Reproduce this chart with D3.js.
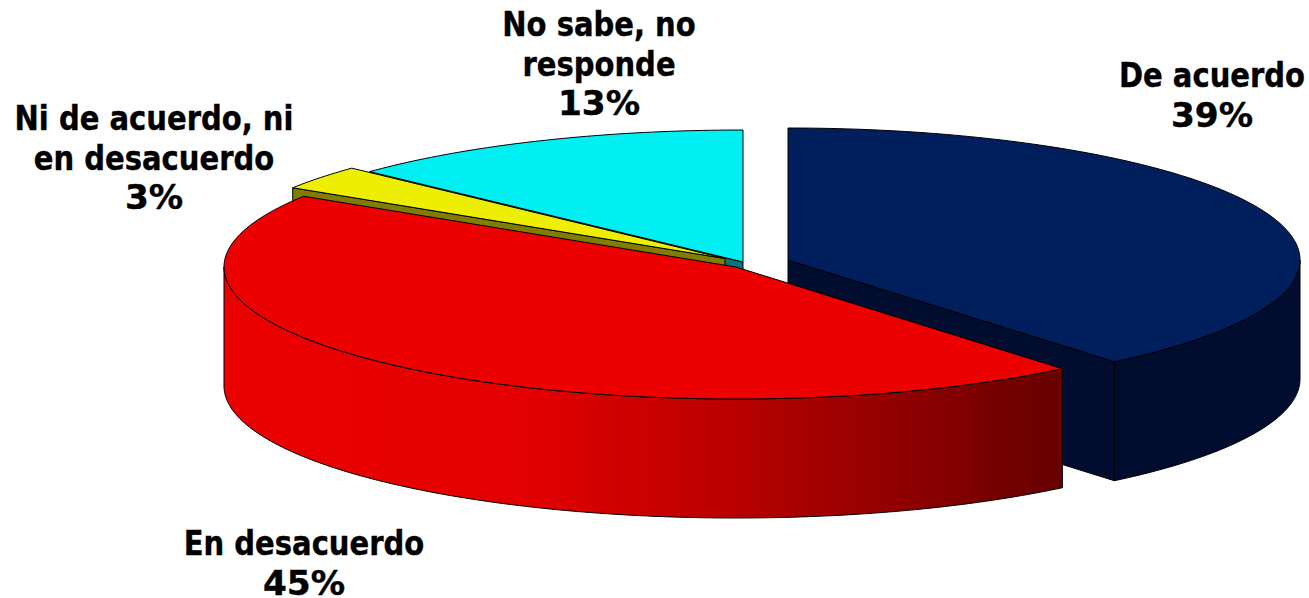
<!DOCTYPE html>
<html>
<head>
<meta charset="utf-8">
<script src="https://d3js.org/d3.v7.min.js"></script>
<style>
    html, body { margin: 0; padding: 0; background: #fff; overflow: hidden; }
    text { font-family: "DejaVu Sans", sans-serif; font-weight: bold; fill: #000; stroke: #000; stroke-width: 0.4px; }
</style>
</head>
<body>
<svg id="chart" width="1309" height="598"></svg>
<script>
const categories = ["De acuerdo", "En desacuerdo", "Ni de acuerdo, ni en desacuerdo", "No sabe, no responde"];
const values = [39, 45, 3, 13];
const labelLines = [["De acuerdo"], ["En desacuerdo"], ["Ni de acuerdo, ni", "en desacuerdo"], ["No sabe, no", "responde"]];

const topColors = ["#001f5c", "#ec0000", "#eeee00", "#00eff2"];
const wallColors = ["#000d2e", "url(#redWall)", "#807d00", "#0b7478"];
const centers = [[788, 260], [736, 267], [725, 258.5], [743, 262]];
const labelPos = [[1212, 87], [304, 555], [154, 130], [599, 36]];

const rx = 512, ry = 132, depth = 119;
const fontSize = 33, lineGap = 39.5, textSqueeze = 0.88, percentSqueeze = 1.04;

const svg = d3.select("#chart");

const grad = svg.append("defs").append("linearGradient")
    .attr("id", "redWall")
    .attr("gradientUnits", "userSpaceOnUse")
    .attr("x1", 224).attr("x2", 1062).attr("y1", 0).attr("y2", 0);
[[0, "#ec0000"], [0.35, "#e40000"], [0.6, "#bb0000"], [0.8, "#920000"], [1, "#660000"]].forEach(s => {
    grad.append("stop").attr("offset", s[0]).attr("stop-color", s[1]);
});

const pie = d3.pie().sort(null).value(d => d).startAngle(0).endAngle(2 * Math.PI);
const slices = pie(values);
const line = d3.line();

function point(c, a, z) {
    return [c[0] + rx * Math.sin(a), c[1] - ry * Math.cos(a) + (z || 0)];
}

function arcPoints(c, a0, a1, z) {
    const n = Math.max(2, Math.ceil((a1 - a0) * 60));
    return d3.range(n + 1).map(i => point(c, a0 + (a1 - a0) * i / n, z));
}

function drawShape(pts, fill) {
    svg.append("path")
        .attr("d", line(pts) + "Z")
        .attr("fill", fill)
        .attr("stroke", "#000")
        .attr("stroke-width", 1)
        .attr("stroke-linejoin", "round");
}

// painted back to front, the red slice sits over everything
[0, 3, 2, 1].forEach(i => {
    const s = slices[i], c = centers[i];

    // straight cut faces, only the ones turned to the viewer
    [[s.startAngle, Math.sin(s.startAngle) < -1e-6], [s.endAngle, Math.sin(s.endAngle) > 1e-6]].forEach(e => {
        if (e[1]) {
            const p = point(c, e[0]);
            drawShape([c, p, [p[0], p[1] + depth], [c[0], c[1] + depth]], wallColors[i]);
        }
    });

    // rounded outer face
    const a0 = Math.max(s.startAngle, Math.PI / 2), a1 = Math.min(s.endAngle, 3 * Math.PI / 2);
    if (a1 > a0) {
        drawShape(arcPoints(c, a0, a1, 0).concat(arcPoints(c, a0, a1, depth).reverse()), wallColors[i]);
    }

    drawShape([c].concat(arcPoints(c, s.startAngle, s.endAngle, 0)), topColors[i]);
});

categories.forEach((name, i) => {
    const rows = labelLines[i].concat(values[i] + "%");
    const n = rows.length - 1;
    svg.append("g").selectAll("text").data(rows).join("text")
        .attr("transform", (d, k) => `translate(${labelPos[i][0]},${labelPos[i][1] + k * lineGap}) scale(${k === n ? percentSqueeze : textSqueeze},1)`)
        .attr("text-anchor", "middle")
        .attr("font-size", fontSize)
        .text(d => d);
});
</script>
</body>
</html>
